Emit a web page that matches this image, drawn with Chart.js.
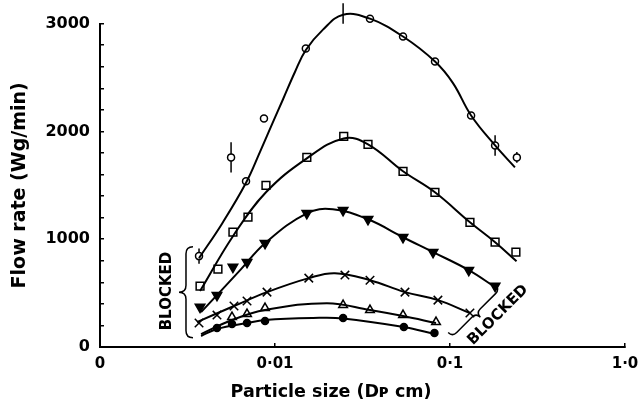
<!DOCTYPE html>
<html>
<head>
<meta charset="utf-8">
<script src="https://cdn.jsdelivr.net/npm/chart.js@4.4.0/dist/chart.umd.min.js"></script>
<style>
  html, body { margin: 0; padding: 0; background: #fff; }
  #wrap { width: 642px; height: 406px; position: relative; }
</style>
</head>
<body>
<div id="wrap"><canvas id="flowChart"></canvas></div>
<script>
// axis ticks and titles
const xTickValues = [0.001, 0.01, 0.1, 1];
const xTickLabels = ["0", "0·01", "0·1", "1·0"];
const yTickLabels = ["0", "1000", "2000", "3000"];
const xTitle = "Particle size (Dᴘ cm)";
const yTitle = "Flow rate (Wg/min)";

// measured points (particle size in cm, flow rate in Wg/min)
const circleX = [0.00368, 0.00561, 0.00683, 0.00865, 0.0150, 0.0245, 0.0349, 0.0539, 0.0821, 0.132, 0.181, 0.241];
const circleY = [843, 1759, 1537, 2120, 2769, 3093, 3046, 2880, 2648, 2148, 1870, 1759];
const circleErr = [70, 140, 0, 0, 0, 95, 0, 0, 0, 0, 95, 50];

const squareX = [0.00373, 0.00472, 0.00575, 0.00701, 0.00888, 0.0152, 0.0247, 0.034, 0.0539, 0.082, 0.130, 0.181, 0.238];
const squareY = [565, 722, 1065, 1204, 1500, 1759, 1954, 1880, 1630, 1435, 1157, 972, 880];

const triDownX = [0.00373, 0.00466, 0.00575, 0.00692, 0.00877, 0.0152, 0.0245, 0.034, 0.0539, 0.080, 0.128, 0.181];
const triDownY = [370, 481, 741, 787, 963, 1240, 1268, 1185, 1018, 880, 713, 565];

const crossX = [0.00368, 0.00466, 0.00583, 0.00692, 0.009, 0.0156, 0.0251, 0.0349, 0.0553, 0.0853, 0.130];
const crossY = [222, 296, 380, 426, 509, 639, 667, 620, 509, 435, 315];

const triUpX = [0.00568, 0.00692, 0.00877, 0.0245, 0.0349, 0.0539, 0.0832];
const triUpY = [278, 306, 361, 389, 343, 296, 231];

const dotX = [0.00466, 0.00568, 0.00692, 0.00877, 0.0245, 0.0545, 0.0815];
const dotY = [176, 213, 222, 241, 269, 185, 130];

// hand-drawn fitted curves
const circleFitX = [0.00368, 0.00498, 0.00683, 0.00821, 0.00961, 0.0111, 0.0130, 0.0150, 0.0188, 0.0245, 0.0349, 0.0539, 0.0821, 0.104, 0.132, 0.181, 0.235];
const circleFitY = [824, 1144, 1523, 1810, 2065, 2296, 2551, 2755, 2944, 3083, 3046, 2880, 2648, 2448, 2148, 1870, 1667];

const squareFitX = [0.00373, 0.00575, 0.00888, 0.0152, 0.0247, 0.034, 0.0539, 0.082, 0.130, 0.181, 0.24];
const squareFitY = [519, 1028, 1435, 1750, 1935, 1880, 1630, 1435, 1157, 972, 796];

const triDownFitX = [0.00378, 0.00466, 0.0064, 0.00877, 0.0152, 0.0214, 0.034, 0.0539, 0.080, 0.128, 0.181];
const triDownFitY = [324, 481, 722, 963, 1240, 1278, 1185, 1018, 880, 713, 555];

const crossFitX = [0.00358, 0.00583, 0.009, 0.0156, 0.022, 0.0349, 0.0553, 0.0853, 0.130];
const crossFitY = [231, 380, 509, 639, 685, 620, 509, 435, 315];

const triUpFitX = [0.00378, 0.00568, 0.00877, 0.0198, 0.0349, 0.0539, 0.0832];
const triUpFitY = [120, 250, 343, 407, 343, 287, 222];

const dotFitX = [0.00378, 0.00466, 0.00692, 0.00877, 0.0165, 0.0245, 0.0545, 0.0815];
const dotFitY = [102, 167, 222, 250, 269, 265, 185, 120];

const pts = (xs, ys) => xs.map((x, i) => ({ x, y: ys[i] }));

const FONT = "'DejaVu Sans', sans-serif";

function curve(xs, ys) {
    return {
        data: pts(xs, ys),
        showLine: true,
        borderColor: "#000",
        borderWidth: 2,
        pointRadius: 0,
        tension: 0.4,
        clip: false
    };
}

function markers(xs, ys, style, radius, fill, extra) {
    return Object.assign({
        data: pts(xs, ys),
        showLine: false,
        pointStyle: style,
        pointRadius: radius,
        pointBackgroundColor: fill,
        pointBorderColor: "#000",
        pointBorderWidth: 1.5,
        clip: false
    }, extra || {});
}

function drawBrace(ctx, cx, cy, len, d, angle) {
    const h = len / 2;
    ctx.save();
    ctx.translate(cx, cy);
    ctx.rotate(angle);
    ctx.beginPath();
    ctx.moveTo(d, -h);
    ctx.quadraticCurveTo(0, -h, 0, -h + d);
    ctx.lineTo(0, -d);
    ctx.quadraticCurveTo(0, 0, -d, 0);
    ctx.quadraticCurveTo(0, 0, 0, d);
    ctx.lineTo(0, h - d);
    ctx.quadraticCurveTo(0, h, d, h);
    ctx.stroke();
    ctx.restore();
}

// error bars, x title and the BLOCKED notes
const extras = {
    id: "extras",
    beforeDatasetsDraw(chart) {
        const { ctx, scales: { x, y } } = chart;
        ctx.save();
        ctx.strokeStyle = "#000";
        ctx.lineWidth = 1.5;
        circleX.forEach((v, i) => {
            if (!circleErr[i]) return;
            const px = x.getPixelForValue(v);
            ctx.beginPath();
            ctx.moveTo(px, y.getPixelForValue(circleY[i] - circleErr[i]));
            ctx.lineTo(px, y.getPixelForValue(circleY[i] + circleErr[i]));
            ctx.stroke();
        });
        ctx.restore();
    },
    afterDatasetsDraw(chart) {
        const { ctx, scales: { x, y } } = chart;
        ctx.save();
        ctx.strokeStyle = "#000";
        ctx.fillStyle = "#000";
        ctx.lineWidth = 1.5;
        ctx.textAlign = "center";
        ctx.textBaseline = "middle";

        // axis title, sits a little left of the axis centre in the original
        ctx.font = "bold 17.5px " + FONT;
        ctx.fillText(xTitle, x.getPixelForValue(0.0209), x.bottom - 14);

        ctx.font = "bold 15px " + FONT;
        // left side
        drawBrace(ctx, x.getPixelForValue(0.0031), y.getPixelForValue(509), 91, 7, 0);
        ctx.save();
        ctx.translate(x.getPixelForValue(0.00241), y.getPixelForValue(519));
        ctx.rotate(-Math.PI / 2);
        ctx.fillText("BLOCKED", 0, 0);
        ctx.restore();

        // right side
        drawBrace(ctx, x.getPixelForValue(0.141), y.getPixelForValue(315), 67, 6, Math.PI * 1.25);
        ctx.save();
        ctx.translate(x.getPixelForValue(0.188), y.getPixelForValue(296));
        ctx.rotate(-Math.PI / 4);
        ctx.fillText("BLOCKED", 0, 0);
        ctx.restore();

        ctx.restore();
    }
};

new Chart(document.getElementById("flowChart"), {
    type: "scatter",
    data: {
        datasets: [
            curve(circleFitX, circleFitY),
            curve(squareFitX, squareFitY),
            curve(triDownFitX, triDownFitY),
            curve(crossFitX, crossFitY),
            curve(triUpFitX, triUpFitY),
            curve(dotFitX, dotFitY),
            markers(circleX, circleY, "circle", 3.5, "#fff"),
            markers(squareX, squareY, "rect", 5.5, "#fff"),
            markers(triDownX, triDownY, "triangle", 5.5, "#000", { rotation: 180 }),
            markers(crossX, crossY, "crossRot", 6, "#000"),
            markers(triUpX, triUpY, "triangle", 5, "#fff"),
            markers(dotX, dotY, "circle", 3.5, "#000")
        ]
    },
    options: {
        responsive: true,
        maintainAspectRatio: false,
        animation: false,
        layout: { padding: { top: 23, right: 17, left: 0, bottom: 0 } },
        plugins: {
            legend: { display: false },
            tooltip: { enabled: false }
        },
        scales: {
            x: {
                type: "logarithmic",
                min: 0.001,
                max: 1,
                afterFit: (s) => { s.height = 59; s.paddingLeft = 0; s.paddingRight = 0; },
                afterBuildTicks: (s) => { s.ticks = xTickValues.map(v => ({ value: v })); },
                border: { color: "#000", width: 2 },
                grid: { drawOnChartArea: false, color: "#000", tickLength: -4, lineWidth: 1.5 },
                ticks: {
                    color: "#000",
                    padding: 12,
                    maxRotation: 0,
                    autoSkip: false,
                    font: { family: FONT, size: 15, weight: "bold" },
                    callback: (v) => {
                        const i = xTickValues.indexOf(v);
                        return i >= 0 ? xTickLabels[i] : "";
                    }
                },
                title: { display: false }
            },
            y: {
                min: 0,
                max: 3000,
                afterFit: (s) => { s.width = 100; },
                border: { color: "#000", width: 2 },
                grid: { drawOnChartArea: false, color: "#000", tickLength: -4, lineWidth: 1.5 },
                ticks: {
                    stepSize: 200,
                    color: "#000",
                    padding: 14,
                    autoSkip: false,
                    font: { family: FONT, size: 16, weight: "bold" },
                    callback: (v) => (v % 1000 === 0 ? yTickLabels[v / 1000] : "")
                },
                title: {
                    display: true,
                    text: yTitle,
                    color: "#000",
                    font: { family: FONT, size: 19, weight: "bold" },
                    padding: { top: 9, bottom: 0 }
                }
            }
        }
    },
    plugins: [extras]
});
</script>
</body>
</html>
